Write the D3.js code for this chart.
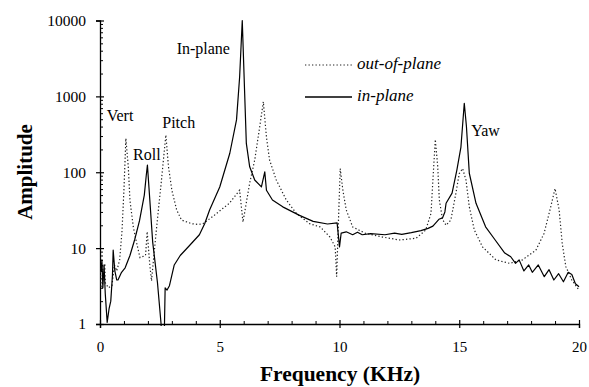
<!DOCTYPE html>
<html>
<head>
<meta charset="utf-8">
<script src="https://cdn.jsdelivr.net/npm/d3@7"></script>
<style>
  body { margin: 0; background: #fff; }
  svg { display: block; }
  text { font-family: "Liberation Serif", "DejaVu Serif", serif; fill: #000; }
</style>
</head>
<body>
<div id="chart"></div>
<script>
// in-plane (solid) response, frequency in KHz
var inFreq = [0.00, 0.05, 0.08, 0.12, 0.17, 0.22, 0.30, 0.38, 0.45, 0.52, 0.55, 0.62, 0.70, 0.75, 0.90, 1.05,
  1.25, 1.45, 1.65, 1.85, 1.93, 1.98, 2.08, 2.20, 2.40, 2.55, 2.58, 2.68, 2.72, 2.80, 2.90, 3.10, 3.35,
  3.70, 4.15, 4.37, 4.58, 5.00, 5.42, 5.70, 5.83, 5.94, 6.04, 6.11, 6.25, 6.46, 6.74, 6.88, 6.95, 7.20,
  7.63, 8.33, 8.90, 9.50, 9.90, 10.00, 10.07, 10.28, 10.55, 10.75, 10.95, 11.30, 11.90, 12.30, 12.60,
  13.00, 13.40, 13.70, 13.90, 14.15, 14.30, 14.40, 14.45, 14.70, 14.90, 15.07, 15.21, 15.30, 15.42,
  15.70, 16.10, 16.50, 16.90, 17.15, 17.35, 17.50, 17.70, 17.90, 18.05, 18.30, 18.55, 18.75, 18.95,
  19.15, 19.35, 19.55, 19.70, 19.85, 20.00];
var inAmp = [7.5, 5, 7, 3, 6, 2.5, 1.05, 1.6, 2.0, 4.4, 9.4, 5, 3.8, 3.8, 4.8, 5.5,
  8, 13, 23, 50, 90, 124, 43, 12, 3.5, 1, 0.6, 0.6, 3, 2.8, 3.2, 6, 8,
  10.5, 15, 21, 32, 64, 178, 490, 1800, 10000, 1100, 240, 118, 79, 64, 101, 58, 43,
  35, 27, 22.5, 20.8, 21.5, 10.4, 15.8, 16.4, 15, 16.2, 15, 15.5, 15, 15.8, 15.2,
  16, 17, 18.2, 19.5, 24, 25, 30, 39, 53, 107, 215, 810, 400, 97,
  39, 19.1, 12.8, 8.6, 7.7, 6.3, 7, 5, 6, 4.8, 6, 4.2, 5.2, 3.8,
  4.6, 3.6, 4.8, 4.5, 3.4, 3.1];

// out-of-plane (dotted) response
var outFreq = [0.00, 0.05, 0.10, 0.12, 0.20, 0.22, 0.35, 0.50, 0.60, 0.70, 0.82, 0.92, 1.00, 1.08, 1.18,
  1.25, 1.39, 1.53, 1.67, 1.90, 1.97, 2.08, 2.15, 2.35, 2.55, 2.75, 2.86, 3.00, 3.20, 3.40, 3.82,
  4.10, 4.30, 4.70, 5.40, 5.83, 5.97, 6.25, 6.46, 6.67, 6.82, 6.95, 7.08, 7.36, 7.78, 8.20, 8.75,
  9.20, 9.60, 9.82, 9.88, 10.03, 10.14, 10.28, 10.55, 11.10, 11.80, 12.50, 13.20, 13.60, 13.82,
  13.90, 14.00, 14.10, 14.17, 14.30, 14.45, 14.65, 14.86, 15.00, 15.14, 15.28, 15.42, 15.63,
  15.97, 16.53, 17.10, 17.64, 18.20, 18.54, 18.82, 19.00, 19.17, 19.30, 19.45, 19.70, 20.00];
var outAmp = [7.5, 3, 3, 6, 6, 3.5, 3, 3.2, 6, 5, 7, 17, 60, 280, 118,
  43, 19, 11.7, 7.5, 8, 16.5, 6, 3.7, 17, 70, 310, 118, 58, 32, 23.5, 21,
  20.5, 21, 26, 39, 58, 22, 72, 145, 400, 850, 290, 145, 79, 43, 28.7, 21,
  19, 14, 10.4, 4.2, 112, 58, 32, 19, 15.6, 14, 12.8, 13.5, 17.3, 28.7,
  79, 270, 120, 43, 24, 20, 23.5, 53, 96, 112, 79, 35, 17.3,
  10.4, 7, 6.3, 7, 9.4, 15.6, 35, 61, 32, 11.5, 5.7, 3.8, 2.8];

var xMajor = [0, 5, 10, 15, 20];
var yMajor = [1, 10, 100, 1000, 10000];

var peakLabels = ["Vert", "Roll", "Pitch", "In-plane", "Yaw"];
var peakFreq = [0.28, 1.38, 2.6, 3.2, 15.5];
var peakAmp = [470, 145, 380, 3600, 300];

var width = 589, height = 387;
var margin = { top: 20.5, right: 10, bottom: 63, left: 100 };

var svg = d3.select("#chart").append("svg")
  .attr("width", width)
  .attr("height", height);

var x = d3.scaleLinear().domain([0, 20]).range([margin.left, width - margin.right]);
var y = d3.scaleLog().domain([1, 10000]).range([height - margin.bottom, margin.top]);

// minor ticks
var xMinor = d3.range(0, 21).filter(function (d) { return d % 5 != 0; });
var yMinor = [];
yMajor.slice(0, -1).forEach(function (d) {
  for (var k = 2; k < 10; k++) yMinor.push(d * k);
});

// x axis
var gx = svg.append("g")
  .attr("transform", "translate(0," + y(1) + ")")
  .call(d3.axisBottom(x).tickValues(xMajor).tickSize(4).tickPadding(13).tickFormat(d3.format("d")));
gx.select(".domain").attr("stroke-width", 1.3);
gx.selectAll(".tick line").attr("y1", -4).attr("stroke-width", 1.2);
gx.selectAll("text").style("font-size", "15px");
svg.append("g")
  .attr("transform", "translate(0," + y(1) + ")")
  .call(d3.axisTop(x).tickValues(xMinor).tickSize(3).tickFormat(""))
  .select(".domain").remove();

// y axis
var gy = svg.append("g")
  .attr("transform", "translate(" + x(0) + ",0)")
  .call(d3.axisLeft(y).tickValues(yMajor).tickSize(4).tickPadding(10).tickFormat(d3.format("d")));
gy.select(".domain").attr("stroke-width", 1.3);
gy.selectAll(".tick line").attr("x1", 4).attr("stroke-width", 1.2);
gy.selectAll("text").style("font-size", "15.5px");
svg.append("g")
  .attr("transform", "translate(" + x(0) + ",0)")
  .call(d3.axisRight(y).tickValues(yMinor).tickSize(3).tickFormat(""))
  .select(".domain").remove();

svg.selectAll(".tick line").attr("stroke", "#000");
svg.selectAll(".domain").attr("stroke", "#000");

// axis titles
svg.append("text")
  .attr("x", 340)
  .attr("y", 381)
  .attr("text-anchor", "middle")
  .style("font-size", "21.5px")
  .style("font-weight", "bold")
  .text("Frequency (KHz)");

svg.append("text")
  .attr("transform", "translate(32,172) rotate(-90)")
  .attr("text-anchor", "middle")
  .style("font-size", "21px")
  .style("font-weight", "bold")
  .text("Amplitude");

// clip the curves to the plot area
svg.append("clipPath").attr("id", "plot-clip")
  .append("rect")
  .attr("x", x(0)).attr("y", 0)
  .attr("width", x(20) - x(0) + 2).attr("height", y(1) + 2);

var line = d3.line()
  .x(function (d) { return x(d[0]); })
  .y(function (d) { return y(d[1]); });

var outData = outFreq.map(function (f, i) { return [f, outAmp[i]]; });
var inData = inFreq.map(function (f, i) { return [f, inAmp[i]]; });

svg.append("path")
  .datum(outData)
  .attr("clip-path", "url(#plot-clip)")
  .attr("fill", "none")
  .attr("stroke", "#222")
  .attr("stroke-width", 1.2)
  .attr("stroke-dasharray", "1.3,2.2")
  .attr("d", line);

svg.append("path")
  .datum(inData)
  .attr("clip-path", "url(#plot-clip)")
  .attr("fill", "none")
  .attr("stroke", "#000")
  .attr("stroke-width", 1.2)
  .attr("stroke-linejoin", "round")
  .attr("d", line);

// peak labels
svg.selectAll(".peak")
  .data(peakLabels)
  .enter().append("text")
  .attr("class", "peak")
  .attr("x", function (d, i) { return x(peakFreq[i]); })
  .attr("y", function (d, i) { return y(peakAmp[i]); })
  .style("font-size", "16px")
  .text(function (d) { return d; });

// legend
var legend = svg.append("g").attr("transform", "translate(305,65)");
legend.append("line")
  .attr("x1", 0).attr("x2", 47).attr("y1", 0).attr("y2", 0)
  .attr("stroke", "#222").attr("stroke-width", 1.2).attr("stroke-dasharray", "1.3,2.2");
legend.append("text")
  .attr("x", 52).attr("y", 4)
  .style("font-size", "17px").style("font-style", "italic")
  .text("out-of-plane");
legend.append("line")
  .attr("x1", 0).attr("x2", 47).attr("y1", 32).attr("y2", 32)
  .attr("stroke", "#000").attr("stroke-width", 1.3);
legend.append("text")
  .attr("x", 52).attr("y", 36)
  .style("font-size", "17px").style("font-style", "italic")
  .text("in-plane");
</script>
</body>
</html>
